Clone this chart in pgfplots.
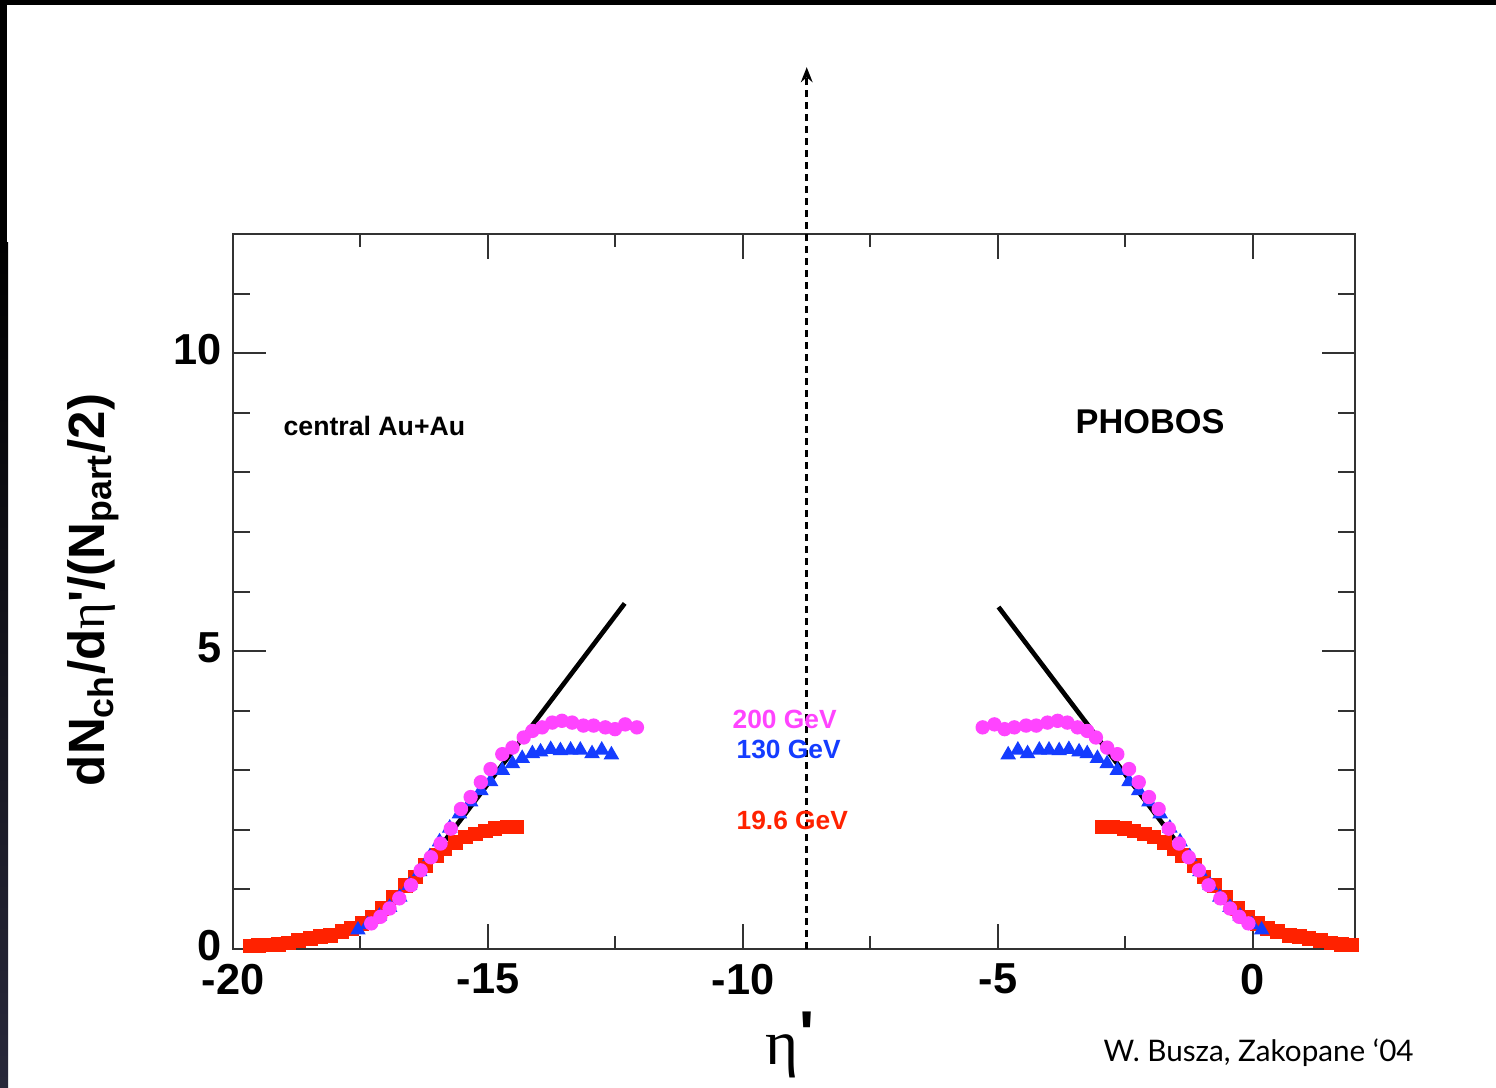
\documentclass[border=0pt]{standalone}
\usepackage{pgfplots}
\pgfplotsset{compat=1.18}
\usepackage{fontspec}
\setmainfont{Liberation Sans}
\newfontfamily\rawsans{Liberation Sans}[Ligatures=TeXOff]
\newfontfamily\serifgr{Liberation Serif}
\newfontfamily\credit{Lato}
\usetikzlibrary{arrows.meta}
\definecolor{pinkc}{RGB}{255,68,255}
\definecolor{bluec}{RGB}{20,60,255}
\definecolor{redc}{RGB}{255,34,0}
\definecolor{framec}{RGB}{50,50,50}
\definecolor{sidec}{RGB}{40,40,58}

\pgfplotstableread{
x y
-5.30 3.72
-5.07 3.77
-4.87 3.69
-4.68 3.72
-4.45 3.75
-4.25 3.75
-4.03 3.80
-3.83 3.83
-3.64 3.80
-3.44 3.72
-3.25 3.66
-3.08 3.55
-2.86 3.38
-2.66 3.27
-2.43 3.02
-2.24 2.80
-2.04 2.55
-1.85 2.35
-1.65 2.02
-1.45 1.77
-1.26 1.54
-1.06 1.32
-0.87 1.07
-0.64 0.85
-0.45 0.68
-0.27 0.54
-0.09 0.43
}\pinkR

\pgfplotstableread{
x y
-12.08 3.72
-12.31 3.77
-12.51 3.69
-12.70 3.72
-12.93 3.75
-13.13 3.75
-13.35 3.80
-13.55 3.83
-13.74 3.80
-13.94 3.72
-14.13 3.66
-14.30 3.55
-14.52 3.38
-14.72 3.27
-14.95 3.02
-15.14 2.80
-15.34 2.55
-15.53 2.35
-15.73 2.02
-15.93 1.77
-16.12 1.54
-16.32 1.32
-16.51 1.07
-16.74 0.85
-16.93 0.68
-17.11 0.54
-17.29 0.43
}\pinkL

\pgfplotstableread{
x y
-4.80 3.26
-4.61 3.34
-4.42 3.28
-4.19 3.34
-4.00 3.34
-3.80 3.33
-3.61 3.35
-3.41 3.31
-3.25 3.28
-3.05 3.20
-2.86 3.11
-2.66 3.00
-2.43 2.81
-2.24 2.66
-2.04 2.47
-1.82 2.27
-1.63 2.03
-1.43 1.80
-1.24 1.55
-1.04 1.30
-0.84 1.07
-0.65 0.87
-0.45 0.70
-0.25 0.55
-0.02 0.41
0.17 0.32
}\blueR

\pgfplotstableread{
x y
-12.58 3.26
-12.77 3.34
-12.96 3.28
-13.19 3.34
-13.38 3.34
-13.58 3.33
-13.77 3.35
-13.97 3.31
-14.13 3.28
-14.33 3.20
-14.52 3.11
-14.72 3.00
-14.95 2.81
-15.14 2.66
-15.34 2.47
-15.56 2.27
-15.75 2.03
-15.95 1.80
-16.14 1.55
-16.34 1.30
-16.54 1.07
-16.73 0.87
-16.93 0.70
-17.13 0.55
-17.36 0.41
-17.55 0.32
}\blueL

\pgfplotstableread{
x y
-2.95 2.05
-2.75 2.05
-2.52 2.02
-2.33 1.98
-2.13 1.93
-1.94 1.88
-1.74 1.79
-1.54 1.68
-1.38 1.57
-1.15 1.40
-0.96 1.21
-0.76 1.07
-0.53 0.87
-0.30 0.68
-0.11 0.54
0.09 0.43
0.29 0.34
0.48 0.29
0.71 0.23
0.91 0.21
1.10 0.18
1.33 0.14
1.53 0.10
1.73 0.08
1.93 0.07
2.12 0.06
2.28 0.05
}\redR

\pgfplotstableread{
x y
-14.43 2.05
-14.63 2.05
-14.86 2.02
-15.05 1.98
-15.25 1.93
-15.44 1.88
-15.64 1.79
-15.84 1.68
-16.00 1.57
-16.23 1.40
-16.42 1.21
-16.62 1.07
-16.85 0.87
-17.08 0.68
-17.27 0.54
-17.47 0.43
-17.67 0.34
-17.86 0.29
-18.09 0.23
-18.29 0.21
-18.48 0.18
-18.71 0.14
-18.91 0.10
-19.11 0.08
-19.31 0.07
-19.50 0.06
-19.66 0.05
}\redL

\begin{document}
\begin{tikzpicture}[x=0.3pt,y=0.3pt]
\path[use as bounding box] (0,0) rectangle (1496,1087);
\fill[white] (0,0) rectangle (1496,1087);
\fill[black] (0,1082) rectangle (1496,1087);
\fill[black] (0,845) rectangle (7,1087);
\shade[top color=black,bottom color=sidec] (0,0) rectangle (8,845);

\begin{axis}[
  at={(69.9pt,41.4pt)}, anchor=south west,
  scale only axis, width=336.6pt, height=214.5pt,
  xmin=-20, xmax=2, ymin=0, ymax=12,
  xtick={-20,-15,-10,-5,0}, ytick={0,5,10},
  minor xtick={-17.5,-12.5,-7.5,-2.5},
  minor ytick={1,2,3,4,6,7,8,9,11},
  tick align=inside, xtick pos=both, ytick pos=both,
  axis line style={framec, line width=0.65pt},
  every tick/.style={framec, line width=0.6pt},
  xtick style={/pgfplots/major tick length=7.5pt, /pgfplots/minor tick length=3.8pt},
  ytick style={/pgfplots/major tick length=10pt, /pgfplots/minor tick length=5pt},
  /pgf/number format/assume math mode=true,
  tick label style={font=\fontsize{13}{15}\selectfont\bfseries},
  xticklabel style={yshift=-1pt},
  yticklabel style={yshift=1pt},
]
\addplot[black, line width=1.4pt] coordinates {(-4.99,5.74) (-1.20,1.46)};
\addplot[black, line width=1.4pt] coordinates {(-12.32,5.80) (-16.20,1.42)};
\addplot[only marks, mark=square*, mark size=2.0pt, redc, mark options={fill=redc, draw=redc}] table {\redR};
\addplot[only marks, mark=square*, mark size=2.0pt, redc, mark options={fill=redc, draw=redc}] table {\redL};
\addplot[only marks, mark=triangle*, mark size=2.3pt, bluec, mark options={fill=bluec, draw=bluec}] table {\blueR};
\addplot[only marks, mark=triangle*, mark size=2.3pt, bluec, mark options={fill=bluec, draw=bluec}] table {\blueL};
\addplot[only marks, mark=*, mark size=1.95pt, pinkc, mark options={fill=pinkc, draw=pinkc}] table {\pinkR};
\addplot[only marks, mark=*, mark size=1.95pt, pinkc, mark options={fill=pinkc, draw=pinkc}] table {\pinkL};
\coordinate (arrB) at (axis cs:-8.75,0);
\coordinate (arrT) at (axis cs:-8.75,14.8);
\end{axis}

\draw[black, line width=0.8pt, dash pattern=on 2.1pt off 1.5pt, -{Stealth[length=4.5pt,width=3.5pt]}] (arrB) -- (arrT);

\node[rotate=90, font=\fontsize{15.3}{18}\selectfont\bfseries] at (93,497)
  {dN\textsubscript{ch}/d{\serifgr\mdseries η}{\rawsans '}/(N\textsubscript{part}/2)};
\node[font=\fontsize{19}{22}\selectfont] at (790,42) {{\serifgr η}\raisebox{0.15em}{\rawsans\bfseries '}};
\node[anchor=west, inner sep=0pt, font=\fontsize{8}{10}\selectfont\bfseries] at (283,661) {central Au+Au};
\node[anchor=west, inner sep=0pt, font=\fontsize{10.3}{12}\selectfont\bfseries] at (1075,665) {PHOBOS};
\node[anchor=west, inner sep=0pt, text=pinkc, font=\fontsize{7.9}{10}\selectfont\bfseries] at (732,368) {200 GeV};
\node[anchor=west, inner sep=0pt, text=bluec, font=\fontsize{7.9}{10}\selectfont\bfseries] at (736,338) {130 GeV};
\node[anchor=west, inner sep=0pt, text=redc, font=\fontsize{7.9}{10}\selectfont\bfseries] at (736,267) {19.6 GeV};
\node[anchor=west, inner sep=0pt, font=\credit\fontsize{8.9}{11}\selectfont] at (1103,34) {W. Busza, Zakopane ‘04};
\end{tikzpicture}
\end{document}
